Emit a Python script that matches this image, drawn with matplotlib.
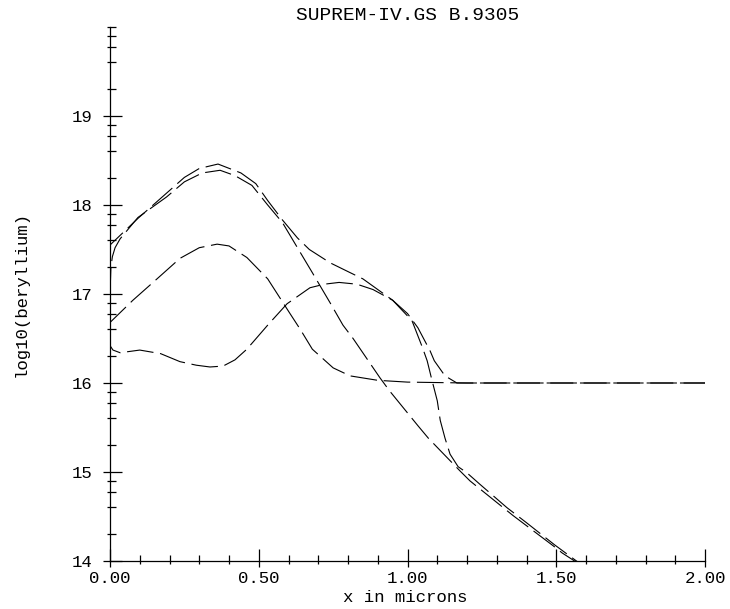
import matplotlib
matplotlib.use("Agg")
import matplotlib.pyplot as plt
import numpy as np

plt.rcParams["font.family"] = "Liberation Mono"

# profile (x in microns, log10 of concentration)
x_diag = [0, 0, 0.003, 0.008, 0.017, 0.034, 0.094, 0.19, 0.25, 0.31, 0.37, 0.42,
          0.477, 0.53, 0.58, 0.605, 0.68, 0.74, 0.783, 0.817, 0.907, 0.94, 1.035,
          1.07, 1.177, 1.21, 1.355, 1.49, 1.52, 1.58]
y_diag = [14.0, 17.0, 17.3, 17.42, 17.52, 17.62, 17.86, 18.09, 18.26, 18.36, 18.39, 18.33,
          18.22, 18.0, 17.8, 17.66, 17.24, 16.9, 16.65, 16.5, 16.06, 15.91, 15.52,
          15.38, 15.01, 14.9, 14.51, 14.17, 14.09, 13.96]

x_top = [0, 0.094, 0.145, 0.25, 0.30, 0.363, 0.44, 0.49, 0.53, 0.58, 0.63, 0.67,
         0.74, 0.807, 0.85, 0.95, 1.015, 1.05, 1.066, 1.08, 1.10, 1.11, 1.126, 1.143,
         1.17, 1.2, 1.244, 1.334, 1.40, 1.495, 1.58]
y_top = [17.55, 17.85, 18.0, 18.31, 18.41, 18.46, 18.36, 18.24, 18.05, 17.83, 17.63, 17.5,
         17.35, 17.24, 17.17, 16.93, 16.7, 16.4, 16.25, 16.06, 15.8, 15.58, 15.38, 15.2,
         15.06, 14.99, 14.86, 14.6, 14.43, 14.18, 13.97]

x_mid = [0, 0.077, 0.158, 0.235, 0.30, 0.36, 0.40, 0.46, 0.53, 0.605, 0.64, 0.68,
         0.75, 0.807, 0.9, 1.0, 1.2, 1.5, 2.0]
y_mid = [16.68, 16.93, 17.17, 17.4, 17.52, 17.56, 17.54, 17.41, 17.17, 16.78, 16.6, 16.38,
         16.17, 16.08, 16.03, 16.01, 16.0, 16.0, 16.0]

x_low = [0, 0.01, 0.034, 0.1, 0.17, 0.235, 0.29, 0.336, 0.38, 0.42, 0.46, 0.53, 0.595,
         0.672, 0.72, 0.77, 0.83, 0.884, 0.95, 1.0, 1.035, 1.076, 1.09, 1.126, 1.166,
         1.25, 1.5, 2.0]
y_low = [16.42, 16.37, 16.34, 16.37, 16.33, 16.24, 16.2, 16.18, 16.19, 16.26, 16.38, 16.65, 16.89,
         17.07, 17.11, 17.13, 17.11, 17.05, 16.93, 16.78, 16.62, 16.36, 16.25, 16.08, 16.0,
         16.0, 16.0, 16.0]

x_major = [0.0, 0.5, 1.0, 1.5, 2.0]
x_labels = ["0.00", "0.50", "1.00", "1.50", "2.00"]
y_major = [14, 15, 16, 17, 18, 19]

x_minor = [round(0.1 * i, 1) for i in range(1, 20) if i % 5]
y_minor = [d + np.log10(k) for d in y_major for k in (2, 4, 6, 8)] + [20]

fig = plt.figure(figsize=(7.3, 6.09), dpi=100)
ax = fig.add_axes([0.1507, 0.0788, 0.8151, 0.8769])

curves = [(x_diag, y_diag, 0), (x_top, y_top, 8), (x_mid, y_mid, 4), (x_low, y_low, 12)]
for xs, ys, off in curves:
    ax.plot(xs, ys, color="black", lw=0.8, linestyle=(off, (24, 6)),
            dash_capstyle="butt")

ax.set_xlim(0, 2)
ax.set_ylim(14, 20)
for s in ("top", "right"):
    ax.spines[s].set_visible(False)
for s in ("left", "bottom"):
    ax.spines[s].set_linewidth(0.9)

ax.set_xticks(x_major)
ax.set_xticklabels(x_labels)
ax.set_xticks(x_minor, minor=True)
ax.set_yticks(y_major)
ax.set_yticklabels([str(v) for v in y_major])
ax.set_yticks(y_minor, minor=True)

ax.tick_params(which="major", direction="in", length=8.5, width=0.9, labelsize=12.5)
ax.tick_params(which="minor", direction="in", length=4.3, width=0.9)
ax.tick_params(axis="x", pad=7)
ax.tick_params(axis="y", pad=13)

# short outward stubs, as on the original plotter axes
secx = ax.secondary_xaxis("bottom")
secx.set_xticks(x_major)
secx.set_xticks(x_minor, minor=True)
secx.tick_params(which="major", direction="out", length=4, width=0.9, labelbottom=False)
secx.tick_params(which="minor", direction="out", length=1.8, width=0.9)
secy = ax.secondary_yaxis("left")
secy.set_yticks(y_major)
secy.set_yticks(y_minor, minor=True)
secy.tick_params(which="major", direction="out", length=5, width=0.9, labelleft=False)
secy.tick_params(which="minor", direction="out", length=2.2, width=0.9)
for sec in (secx, secy):
    for sp in sec.spines.values():
        sp.set_visible(False)

fig.text(408 / 730, 1 - 15 / 609, "SUPREM-IV.GS B.9305", ha="center", va="center", fontsize=14)
fig.text(405 / 730, 1 - 597 / 609, "x in microns", ha="center", va="center", fontsize=12.5)
fig.text(21 / 730, 1 - 294 / 609, "log10(beryllium)", ha="center", va="center",
         rotation=90, fontsize=12.5)

fig.savefig("out.png", dpi=100)
